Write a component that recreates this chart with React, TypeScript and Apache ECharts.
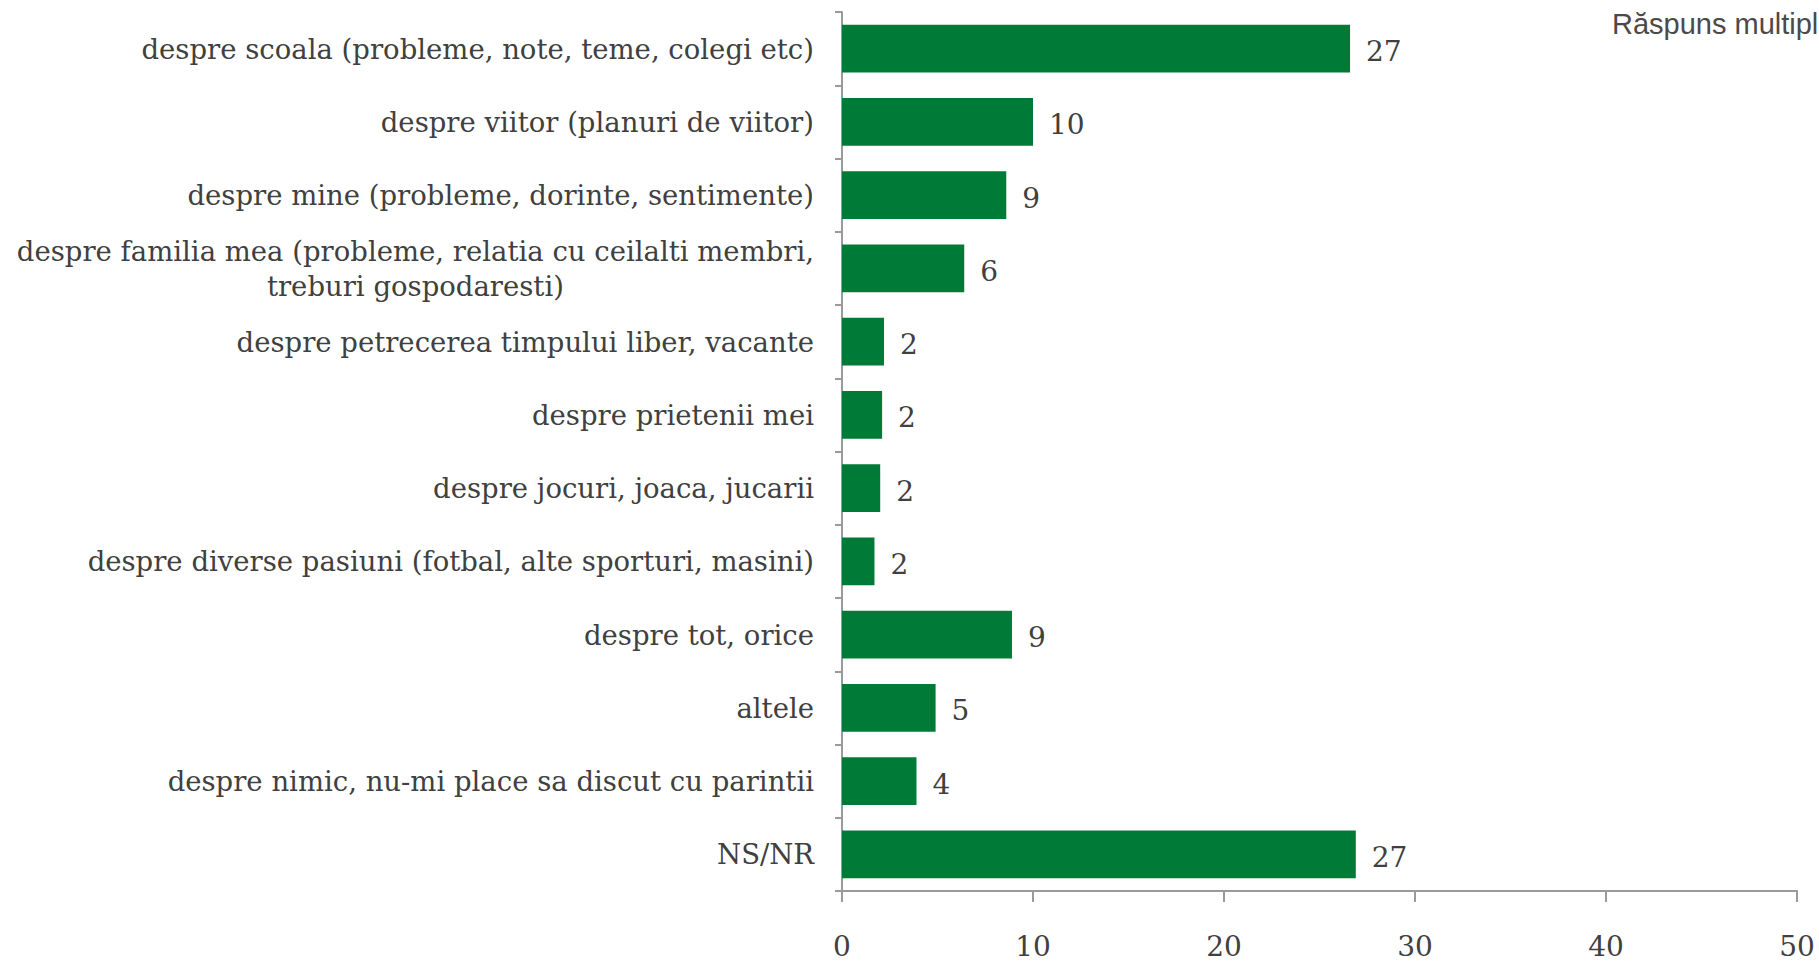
import React, { useEffect, useRef } from "react";
import * as echarts from "echarts";

const categories: string[] = [
  "despre scoala (probleme, note, teme, colegi etc)",
  "despre viitor (planuri de viitor)",
  "despre mine (probleme, dorinte, sentimente)",
  "despre familia mea (probleme, relatia cu ceilalti membri,\ntreburi gospodaresti)",
  "despre petrecerea timpului liber, vacante",
  "despre prietenii mei",
  "despre jocuri, joaca, jucarii",
  "despre diverse pasiuni (fotbal, alte sporturi, masini)",
  "despre tot, orice",
  "altele",
  "despre nimic, nu-mi place sa discut cu parintii",
  "NS/NR",
];

const values: number[] = [26.6, 10.0, 8.6, 6.4, 2.2, 2.1, 2.0, 1.7, 8.9, 4.9, 3.9, 26.9];

const axisTicks: number[] = [0, 10, 20, 30, 40, 50];

const noteText = "Răspuns multiplu";

export default function App() {
  const ref = useRef<HTMLDivElement>(null);

  useEffect(() => {
    if (!ref.current) return;
    const chart = echarts.init(ref.current, undefined, { renderer: "svg" });
    const serif = "'DejaVu Serif', 'Liberation Serif', serif";
    const textColor = "#404040";
    const axisColor = "#9a9a9a";

    chart.setOption({
      animation: false,
      backgroundColor: "#ffffff",
      grid: { left: 842, right: 22, top: 12, bottom: 70, containLabel: false },
      xAxis: {
        type: "value",
        min: axisTicks[0],
        max: axisTicks[axisTicks.length - 1],
        interval: axisTicks[1] - axisTicks[0],
        splitLine: { show: false },
        axisLine: { show: true, lineStyle: { color: axisColor, width: 2 } },
        axisTick: { show: true, length: 11, lineStyle: { color: axisColor, width: 2 } },
        axisLabel: {
          margin: 41,
          fontFamily: serif,
          fontSize: 28,
          color: textColor,
        },
      },
      yAxis: {
        type: "category",
        inverse: true,
        data: categories,
        axisLine: { show: true, lineStyle: { color: axisColor, width: 2 } },
        axisTick: { show: true, length: 7, alignWithLabel: false, lineStyle: { color: axisColor, width: 2 } },
        axisLabel: {
          margin: 28,
          fontFamily: serif,
          fontSize: 27.5,
          color: textColor,
          formatter: (v: string) => {
            if (v.indexOf("\n") >= 0) {
              return v
                .split("\n")
                .map((s) => "{c|" + s + "}")
                .join("\n");
            }
            return v;
          },
          rich: {
            c: {
              align: "center",
              fontFamily: serif,
              fontSize: 27.5,
              color: textColor,
              lineHeight: 35,
            },
          },
        },
      },
      series: [
        {
          type: "bar",
          data: values,
          barCategoryGap: "35%",
          itemStyle: { color: "#007A37" },
          label: {
            show: true,
            position: "right",
            distance: 16,
            offset: [0, 3],
            fontFamily: serif,
            fontSize: 28,
            color: textColor,
            formatter: (p: any) => String(Math.round(p.value)),
          },
        },
      ],
      graphic: [
        {
          type: "text",
          left: 1612,
          top: 9,
          style: {
            text: noteText,
            fontFamily: "'Liberation Sans', Arial, sans-serif",
            fontSize: 29,
            fill: "#4a4a4a",
          },
        },
      ],
    });

    return () => {
      chart.dispose();
    };
  }, []);

  return (
    <div
      ref={ref}
      style={{ position: "fixed", left: 0, top: 0, width: 1819, height: 961, overflow: "hidden" }}
    />
  );
}
